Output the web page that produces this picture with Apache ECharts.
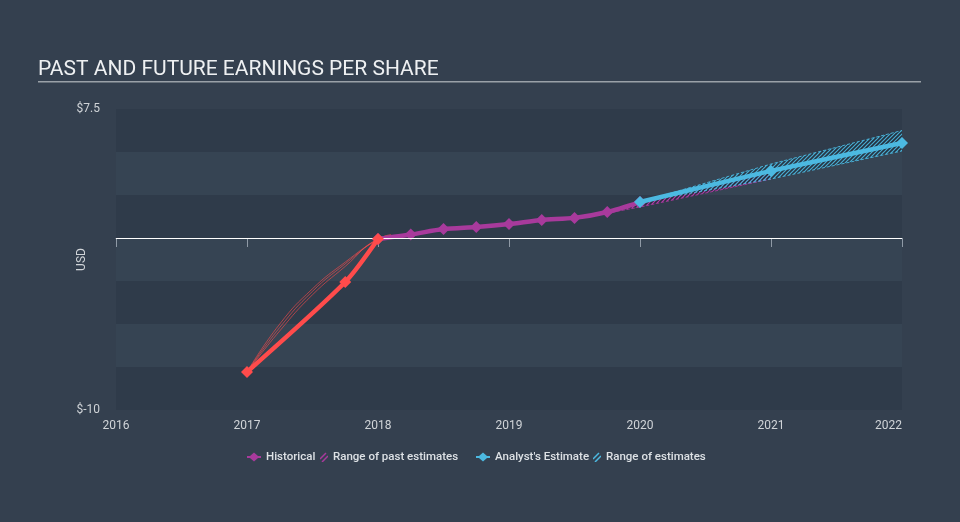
<!DOCTYPE html>
<html>
<head>
<meta charset="utf-8">
<script src="https://cdn.jsdelivr.net/npm/echarts@6/dist/echarts.min.js"></script>
<style>
html,body{margin:0;padding:0;background:#34404f;}
#chart{width:960px;height:522px;}
</style>
</head>
<body>
<div id="chart"></div>
<script>
// ---- data ----
const yTickLabels = ['$-10', '$7.5'];
const xTickLabels = ['2016','2017','2018','2019','2020','2021','2022'];

const lossX = [2017, 2017.75, 2018];
const lossY = [-7.79, -2.56, -0.06];

const histX = [2018, 2018.25, 2018.5, 2018.75, 2019, 2019.25, 2019.5, 2019.75, 2020];
const histY = [-0.06, 0.2, 0.52, 0.64, 0.81, 1.05, 1.17, 1.51, 2.09];

const estX = [2020, 2021, 2022];
const estY = [2.09, 3.9, 5.52];
const estLow = [2.09, 3.43, 5.06];
const estHigh = [2.09, 4.3, 6.25];

const pastArcX = [2017, 2017.25, 2017.5, 2017.75, 2018, 2018.1];
const pastArcA = [-7.79, -5.0, -2.95, -1.4, -0.06, 0.2];
const pastArcB = [-7.79, -5.2, -3.1, -1.5, -0.06, 0.15];
const pastArcC = [-7.79, -5.4, -3.3, -1.65, -0.06, 0.1];

const pastRangeX = [2019.75, 2020, 2021];
const pastRangeLow = [1.45, 1.8, 3.43];
const pastRangeHigh = [1.51, 2.05, 3.88];

// ---- helpers ----
const PURPLE = '#a83a9c';
const RED = '#ff4b4b';
const BLUE = '#4cb9e1';

function hatchCanvas(color, size, lw) {
  const c = document.createElement('canvas');
  c.width = size; c.height = size;
  const ctx = c.getContext('2d');
  ctx.strokeStyle = color;
  ctx.lineWidth = lw;
  ctx.beginPath();
  ctx.moveTo(0, size); ctx.lineTo(size, 0);
  ctx.moveTo(-size/2, size/2); ctx.lineTo(size/2, -size/2);
  ctx.moveTo(size/2, size*1.5); ctx.lineTo(size*1.5, size/2);
  ctx.stroke();
  return c;
}
function hatchIcon(color) {
  const c = document.createElement('canvas');
  c.width = 8; c.height = 10;
  const ctx = c.getContext('2d');
  ctx.strokeStyle = color; ctx.lineWidth = 1.5;
  ctx.beginPath();
  ctx.moveTo(0, 7); ctx.lineTo(6, 1);
  ctx.moveTo(2, 10); ctx.lineTo(8, 4);
  ctx.stroke();
  return 'image://' + c.toDataURL();
}
const zip = (xs, ys) => xs.map((x, i) => [x, ys[i]]);

const lineIcon = 'path://M0,3.5L3,3.5L7,0L11,3.5L14,3.5L14,5.5L11,5.5L7,9L3,5.5L0,5.5Z';

const chart = echarts.init(document.getElementById('chart'));

const legendText = {color: '#dde1e5', fontSize: 11.5, fontWeight: 500, fontFamily: 'Roboto'};
function mkLegend(name, left, icon, w, h) {
  return {
    data: [{name: name, icon: icon}],
    left: left, top: 451, itemWidth: w, itemHeight: h, itemGap: 0,
    textStyle: legendText, selectedMode: false, padding: 0
  };
}

const thinArc = (data, name) => ({
  name: name, type: 'line', data: data, smooth: true, symbol: 'none',
  lineStyle: {color: RED, width: 1, opacity: 0.6}, silent: true, z: 2
});

function bandSeries(name, xs, lo, hi, color, hatchColor, z) {
  const pattern = {image: hatchCanvas(hatchColor, 4, 1.2), repeat: 'repeat'};
  return {
    name: name, type: 'custom', silent: true, z: z,
    itemStyle: {color: color},
    data: [[xs[0], lo[0]]],
    renderItem: function (params, api) {
      const up = xs.map((x, i) => api.coord([x, hi[i]]));
      const dn = xs.map((x, i) => api.coord([x, lo[i]]));
      const poly = up.concat(dn.slice().reverse());
      return {
        type: 'group',
        children: [
          {type: 'polygon', shape: {points: poly}, style: {fill: 'rgba(20,32,45,0.4)'}},
          {type: 'polygon', shape: {points: poly}, style: {fill: pattern}},
          {type: 'polyline', shape: {points: up}, style: {stroke: color, lineWidth: 1, lineDash: [3, 2], fill: null, opacity: 0.9}},
          {type: 'polyline', shape: {points: dn}, style: {stroke: color, lineWidth: 1, lineDash: [3, 2], fill: null, opacity: 0.9}}
        ]
      };
    }
  };
}

chart.setOption({
  backgroundColor: '#34404f',
  animation: false,
  graphic: [
    {type: 'text', left: 38, top: 59, style: {text: 'PAST AND FUTURE EARNINGS PER SHARE', fill: '#eef0f2', font: '21px Roboto'}},
    {type: 'rect', left: 38, top: 81, shape: {width: 883, height: 1.5}, style: {fill: '#9aa1a8'}}
  ],
  legend: [
    mkLegend('Historical', 247, lineIcon, 14, 9),
    mkLegend('Range of past estimates', 320, hatchIcon(PURPLE), 8, 10),
    mkLegend("Analyst's Estimate", 476, lineIcon, 14, 9),
    mkLegend('Range of estimates', 593, hatchIcon(BLUE), 8, 10)
  ],
  grid: {left: 116, right: 58, top: 109, bottom: 112, containLabel: false},
  xAxis: {
    type: 'value', min: 2016, max: 2022, interval: 1,
    axisLine: {show: true, lineStyle: {color: '#8f9aa6', width: 1}},
    axisTick: {show: true, inside: false, length: 9, lineStyle: {color: '#8f9aa6'}},
    splitLine: {show: false},
    axisLabel: {
      color: '#d0d4d8', fontSize: 12, fontFamily: 'Roboto', margin: 10,
      alignMaxLabel: 'right',
      formatter: v => xTickLabels[Math.round(v - 2016)] || ''
    }
  },
  yAxis: {
    type: 'value', min: -10, max: 7.5, interval: 2.5,
    name: 'USD', nameLocation: 'middle', nameGap: 28, nameRotate: 90,
    nameMoveOverlap: false,
    nameTextStyle: {color: '#d0d4d8', fontSize: 12, fontFamily: 'Roboto'},
    axisLine: {show: false}, axisTick: {show: false},
    splitLine: {show: false},
    splitArea: {show: true, areaStyle: {color: ['#2f3b4a', '#364453']}},
    axisLabel: {
      color: '#d0d4d8', fontSize: 12, fontFamily: 'Roboto', margin: 16,
      formatter: v => v === -10 ? yTickLabels[0] : (v === 7.5 ? yTickLabels[1] : '')
    }
  },
  series: [
    thinArc(zip(pastArcX, pastArcA), '_arcA'),
    thinArc(zip(pastArcX, pastArcB), '_arcB'),
    thinArc(zip(pastArcX, pastArcC), '_arcC'),
    bandSeries('Range of past estimates', pastRangeX, pastRangeLow, pastRangeHigh, PURPLE, 'rgba(190,60,175,0.95)', 2),
    bandSeries('Range of estimates', estX, estLow, estHigh, BLUE, 'rgba(76,185,225,0.9)', 3),
    {
      name: '_loss', type: 'line', data: zip(lossX, lossY), smooth: 0.25,
      symbol: 'diamond', symbolSize: 12, itemStyle: {color: RED},
      lineStyle: {color: RED, width: 4.5}, z: 5,
      markLine: {
        silent: true, symbol: 'none', label: {show: false},
        lineStyle: {color: '#ffffff', width: 1, type: 'solid'},
        data: [{yAxis: 0}]
      }
    },
    {
      name: 'Historical', type: 'line', data: zip(histX, histY), smooth: 0.25,
      symbol: 'diamond', symbolSize: 12, itemStyle: {color: PURPLE},
      lineStyle: {color: PURPLE, width: 4.5}, z: 4
    },
    {
      name: "Analyst's Estimate", type: 'line', data: zip(estX, estY), smooth: 0.2,
      symbol: 'diamond', symbolSize: 12, itemStyle: {color: BLUE},
      lineStyle: {color: BLUE, width: 4.5}, z: 6
    }
  ]
});
</script>
</body>
</html>
